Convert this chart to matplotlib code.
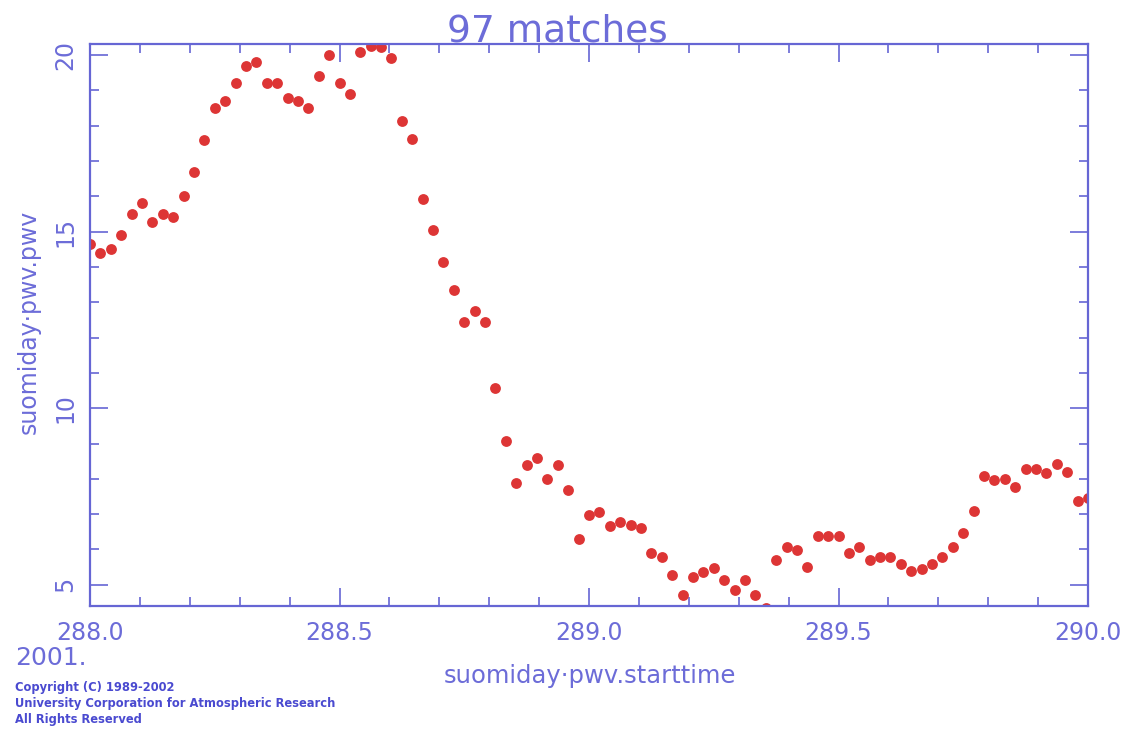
import matplotlib
matplotlib.use("Agg")
import matplotlib.pyplot as plt
import numpy as np
from matplotlib.ticker import MultipleLocator, FormatStrFormatter

# precipitable water vapour, half-hourly from day 288.0 to 290.0
start_day = 288.0
step = 1.0 / 48
pwv = [
    14.64, 14.40, 14.50, 14.91, 15.51, 15.80, 15.28, 15.51, 15.41, 16.01,
    16.69, 17.60, 18.49, 18.70, 19.20, 19.70, 19.80, 19.20, 19.20, 18.79,
    18.70, 18.49, 19.41, 20.00, 19.20, 18.90, 20.09, 20.25, 20.23, 19.92,
    18.12, 17.62, 15.93, 15.04, 14.15, 13.35, 12.45, 12.75, 12.45, 10.57,
    9.08, 7.88, 8.38, 8.58, 7.99, 8.38, 7.68, 6.30, 6.98, 7.07,
    6.67, 6.78, 6.70, 6.61, 5.89, 5.80, 5.29, 4.70, 5.21, 5.35,
    5.47, 5.13, 4.84, 5.13, 4.71, 4.33, 5.70, 6.08, 5.99, 5.49,
    6.39, 6.39, 6.39, 5.89, 6.08, 5.70, 5.80, 5.80, 5.59, 5.38,
    5.46, 5.59, 5.79, 6.08, 6.48, 7.09, 8.09, 7.97, 8.00, 7.78,
    8.27, 8.27, 8.17, 8.41, 8.20, 7.38, 7.47,
]
starttime = start_day + step * np.arange(len(pwv))

axis_blue = "#6666d4"
text_blue = "#6c6cd8"
dot_red = "#dd3535"

fig = plt.figure(figsize=(11.29, 7.29), dpi=100)
ax = fig.add_axes([90 / 1129, 1 - 606 / 729, 998 / 1129, 562 / 729])

ax.plot(starttime, pwv, "o", color=dot_red, markersize=7.8, markeredgewidth=0)

ax.set_xlim(288.0, 290.0)
ax.set_ylim(4.40, 20.31)

ax.xaxis.set_major_locator(MultipleLocator(0.5))
ax.xaxis.set_minor_locator(MultipleLocator(0.1))
ax.yaxis.set_major_locator(MultipleLocator(5))
ax.yaxis.set_minor_locator(MultipleLocator(1))
ax.xaxis.set_major_formatter(FormatStrFormatter("%.1f"))
ax.yaxis.set_major_formatter(FormatStrFormatter("%d"))

for s in ax.spines.values():
    s.set_color(axis_blue)
    s.set_linewidth(1.6)

ax.tick_params(which="both", direction="in", top=True, right=True,
               color=axis_blue, width=1.2, labelcolor=text_blue, labelsize=17)
ax.tick_params(which="major", length=13)
ax.tick_params(which="minor", length=6.5)
ax.tick_params(axis="x", pad=11)
ax.tick_params(axis="y", pad=9, labelrotation=90)
for lbl in ax.get_yticklabels():
    lbl.set_verticalalignment("center")

# title sits right on the top frame line
fig.text(557 / 1129, 1 - 42 / 729, "97 matches", color=text_blue,
         fontsize=27, ha="center", va="baseline")

fig.text(590 / 1129, 1 - 676 / 729, "suomiday\u00b7pwv.starttime",
         color=text_blue, fontsize=17.5, ha="center", va="center")
fig.text(29 / 1129, 1 - 322 / 729, "suomiday\u00b7pwv.pwv",
         color=text_blue, fontsize=17, ha="center", va="center", rotation=90)

fig.text(15 / 1129, 1 - 658 / 729, "2001.", color=text_blue,
         fontsize=18, ha="left", va="center")

notice = ["Copyright (C) 1989-2002",
          "University Corporation for Atmospheric Research",
          "All Rights Reserved"]
for i, line in enumerate(notice):
    fig.text(15 / 1129, 1 - (688 + 16 * i) / 729, line, color="#4a4ad0",
             fontsize=8.3, fontweight="bold", ha="left", va="center")

fig.savefig("out.png", dpi=100, facecolor="white")
